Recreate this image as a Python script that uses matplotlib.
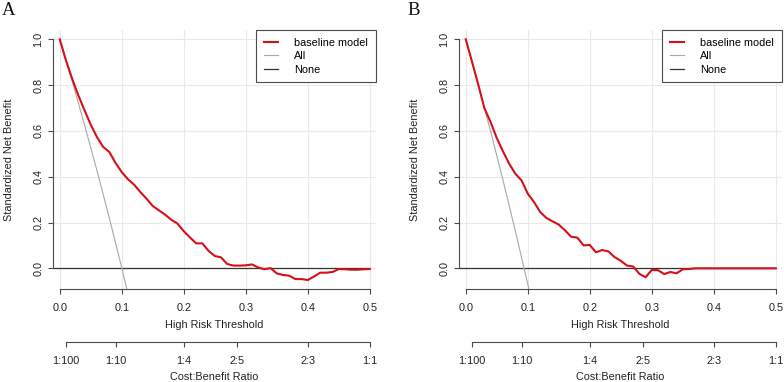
import numpy as np
import matplotlib
matplotlib.use("Agg")
from matplotlib import pyplot as plt
from matplotlib.lines import Line2D

plt.rcParams['font.family'] = ['Liberation Sans', 'DejaVu Sans']

# thresholds used by the decision curve (step 0.01)
thresholds = np.arange(0, 51) / 100

nb_a = [1.000, 0.908, 0.828, 0.755, 0.690, 0.627, 0.573, 0.530, 0.508, 0.460,
        0.420, 0.389, 0.365, 0.333, 0.304, 0.272, 0.253, 0.234, 0.212, 0.195,
        0.162, 0.135, 0.109, 0.109, 0.076, 0.054, 0.048, 0.019, 0.012, 0.012,
        0.013, 0.017, 0.004, -0.004, 0.001, -0.022, -0.029, -0.032, -0.047, -0.047,
        -0.051, -0.036, -0.019, -0.019, -0.016, -0.003, -0.004, -0.006, -0.006, -0.004,
        -0.003]

nb_b = [1.000, 0.903, 0.804, 0.700, 0.639, 0.569, 0.511, 0.457, 0.413, 0.384,
        0.326, 0.290, 0.246, 0.220, 0.205, 0.191, 0.166, 0.138, 0.134, 0.100,
        0.102, 0.070, 0.080, 0.074, 0.049, 0.033, 0.012, 0.008, -0.024, -0.039,
        -0.007, -0.008, -0.025, -0.016, -0.022, -0.004, -0.003, 0.000, 0.000, 0.000,
        0.000, 0.000, 0.000, 0.000, 0.000, 0.000, 0.000, 0.000, 0.000, 0.000,
        0.000]

all_t = [0.00, 0.02, 0.04, 0.06, 0.08, 0.10, 0.12]
all_a = [1.000, 0.817, 0.626, 0.427, 0.219, 0.002, -0.225]
all_b = [1.000, 0.804, 0.599, 0.386, 0.163, -0.069, -0.312]

x_ticks = [0.0, 0.1, 0.2, 0.3, 0.4, 0.5]
y_ticks = [0.0, 0.2, 0.4, 0.6, 0.8, 1.0]
cb_labels = ["1:100", "1:10", "1:4", "2:5", "2:3", "1:1"]
cb_ratios = [1 / 100, 1 / 10, 1 / 4, 2 / 5, 2 / 3, 1 / 1]
cb_ticks = [r / (1 + r) for r in cb_ratios]

W, H = 784, 382
RED = '#D60F18'
AX = '#4a4a4a'
TXT = '#222222'
FS = 7.8


def fx(px):
    return px / W


def fy(py):
    return 1 - py / H


fig = plt.figure(figsize=(W / 100, H / 100), dpi=100)


def panel(left, nb, all_nb, letter):
    xlim = (-0.0104, 0.51)
    ylim = (-0.092, 1.042)
    ax = fig.add_axes([fx(left), fy(289.4), 322.7 / W, 259.7 / H])
    ax.set_xlim(*xlim)
    ax.set_ylim(*ylim)
    ax.grid(True, color='#e9e9e9', lw=0.8, zorder=0)
    ax.set_axisbelow(True)

    ax.hlines(0, xlim[0], 0.5, color='#333333', lw=0.9, zorder=2)
    ax.plot(all_t, all_nb, color='#a8a8a8', lw=0.8, zorder=3)
    ax.plot(thresholds, nb, color=RED, lw=1.5, zorder=4)

    for s in ['top', 'right']:
        ax.spines[s].set_visible(False)
    ax.spines['left'].set_bounds(0, 1)
    ax.spines['bottom'].set_bounds(0, 0.5)
    for s in ['left', 'bottom']:
        ax.spines[s].set_color(AX)
        ax.spines[s].set_linewidth(0.8)
    ax.set_xticks(x_ticks)
    ax.set_yticks(y_ticks)
    ax.set_xticklabels([f"{v:.1f}" for v in x_ticks])
    ax.set_yticklabels([f"{v:.1f}" for v in y_ticks])
    ax.tick_params(axis='both', colors=AX, labelcolor=TXT, labelsize=FS,
                   length=3.6, width=0.8, direction='out')
    ax.tick_params(axis='x', pad=6.5)
    ax.tick_params(axis='y', pad=3.5, labelrotation=90)
    for lab in ax.get_yticklabels():
        lab.set_va('center')

    handles = [Line2D([], [], color=RED, lw=1.5),
               Line2D([], [], color='#a8a8a8', lw=0.8),
               Line2D([], [], color='#333333', lw=0.9)]
    leg = ax.legend(handles, ["baseline model", "All", "None"], loc='upper right',
                    bbox_to_anchor=(1, 1), borderaxespad=0, fontsize=FS,
                    frameon=True, fancybox=False, framealpha=1, edgecolor=AX,
                    handlelength=1.3, handletextpad=1.5, borderpad=0.72,
                    labelspacing=0.33)
    leg.get_frame().set_linewidth(0.8)

    cx = left + 322.7 / 2
    fig.text(fx(left - 44.1), fy(159.6), "Standardized Net Benefit", rotation=90,
             ha='center', va='center', fontsize=FS, color=TXT)
    fig.text(fx(cx), fy(325), "High Risk Threshold", ha='center', va='center',
             fontsize=FS, color=TXT)

    # cost:benefit ratio axis
    cb = fig.add_axes([fx(left), fy(341.7), 322.7 / W, 0.0001])
    cb.set_xlim(*xlim)
    cb.patch.set_visible(False)
    for s in ['top', 'right', 'left']:
        cb.spines[s].set_visible(False)
    cb.spines['bottom'].set_bounds(cb_ticks[0], cb_ticks[-1])
    cb.spines['bottom'].set_color(AX)
    cb.spines['bottom'].set_linewidth(0.8)
    cb.set_yticks([])
    cb.set_xticks(cb_ticks)
    cb.set_xticklabels(cb_labels)
    cb.tick_params(axis='x', colors=AX, labelcolor=TXT, labelsize=FS,
                   length=3.6, width=0.8, pad=6.5)
    fig.text(fx(cx), fy(376.5), "Cost:Benefit Ratio", ha='center', va='center',
             fontsize=FS, color=TXT)

    fig.text(fx(left - 51.6), fy(15), letter, ha='left', va='baseline',
             fontsize=13.5, family=['Liberation Serif', 'DejaVu Serif'], color='#111111')
    return ax


panel(53.3, nb_a, all_a, "A")
panel(459.3, nb_b, all_b, "B")

fig.savefig("out.png", dpi=100)
